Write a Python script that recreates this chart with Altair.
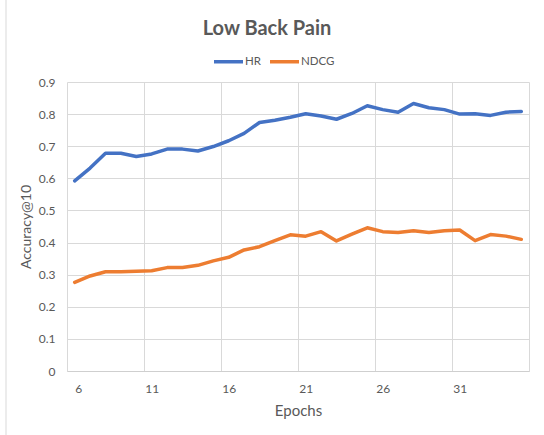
import altair as alt
import pandas as pd

epochs = list(range(6, 36))
hr = [0.592, 0.632, 0.678, 0.678, 0.668, 0.676, 0.691, 0.691, 0.685, 0.699,
      0.717, 0.740, 0.774, 0.781, 0.790, 0.801, 0.794, 0.784, 0.802, 0.826,
      0.814, 0.806, 0.833, 0.820, 0.814, 0.800, 0.801, 0.796, 0.806, 0.808]
ndcg = [0.276, 0.296, 0.309, 0.309, 0.311, 0.312, 0.322, 0.322, 0.329, 0.343,
        0.354, 0.377, 0.387, 0.406, 0.424, 0.420, 0.434, 0.405, 0.426, 0.446,
        0.434, 0.431, 0.437, 0.431, 0.437, 0.439, 0.406, 0.425, 0.420, 0.410]
series_names = ["HR", "NDCG"]
series_colors = ["#4472C4", "#ED7D31"]
y_ticks = [0, 0.1, 0.2, 0.3, 0.4, 0.5, 0.6, 0.7, 0.8, 0.9]

df = pd.DataFrame({
    "Epoch": epochs * 2,
    "value": hr + ndcg,
    "series": ["HR"] * len(epochs) + ["NDCG"] * len(epochs),
})

# category boundaries every 5 epochs (Excel-style "between tick marks")
boundaries = [epochs[0] - 0.5 + 5 * k for k in range(len(epochs) // 5 + 1)]

TXT = "#595959"
GRID = "#D9D9D9"
FONT = "Lato"

x_scale = alt.Scale(domain=[epochs[0] - 0.5, epochs[-1] + 0.5], nice=False, zero=False)
y_scale = alt.Scale(domain=[0, 0.9], nice=False)

lines = alt.Chart(df).mark_line(strokeWidth=3.5, strokeCap="round", strokeJoin="round").encode(
    x=alt.X("Epoch:Q", scale=x_scale,
            axis=alt.Axis(values=boundaries, grid=True, gridColor=GRID, ticks=False,
                          domain=True, domainColor="#CFCFCF",
                          labelExpr="datum.value < %s ? format(datum.value + 0.5, 'd') : ''" % (epochs[-1]),
                          labelOffset=7.7, labelPadding=12, labelFontSize=12,
                          labelColor=TXT, labelFont=FONT,
                          title="Epochs", titleFontSize=15, titleFont=FONT,
                          titleFontWeight="normal", titleColor=TXT, titlePadding=9)),
    y=alt.Y("value:Q", scale=y_scale,
            axis=alt.Axis(values=y_ticks, format=".1~f", grid=True, gridColor=GRID,
                          ticks=False, domain=False, labelPadding=12, labelFontSize=12,
                          labelColor=TXT, labelFont=FONT,
                          title="Accuracy@10", titleFontSize=14, titleFont=FONT,
                          titleFontWeight="normal", titleColor=TXT, titlePadding=5)),
    color=alt.Color("series:N", scale=alt.Scale(domain=series_names, range=series_colors),
                    legend=alt.Legend(title=None, orient="none", legendX=145, legendY=-37,
                                      direction="horizontal", symbolType="stroke",
                                      symbolSize=841, symbolStrokeWidth=3.5,
                                      labelFontSize=11.5, labelColor=TXT, labelFont=FONT,
                                      labelOffset=0, columnPadding=2)),
)

border = alt.Chart(pd.DataFrame({"v": [0]})).mark_rule(color="#D9D9D9", strokeWidth=1).encode(
    x=alt.value(-61), y=alt.value(-82), y2=alt.value(353)
)

chart = alt.layer(border, lines).properties(
    width=462, height=289,
    title=alt.TitleParams("Low Back Pain", font=FONT, fontSize=20, fontWeight="bold",
                          color=TXT, anchor="middle", dx=-31, offset=0, dy=39),
    autosize=alt.AutoSizeParams(type="none"),
    padding={"left": 67, "top": 82, "right": 15, "bottom": 64},
    background="white",
).configure_view(stroke=None)

chart.save("out.html", embed_options={"renderer": "svg", "actions": False})
